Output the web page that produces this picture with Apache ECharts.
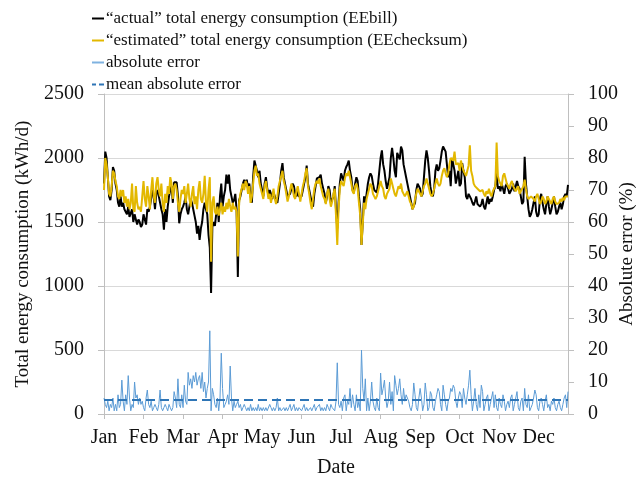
<!DOCTYPE html>
<html>
<head>
<meta charset="utf-8">
<script src="https://cdn.jsdelivr.net/npm/echarts@6/dist/echarts.min.js"></script>
<style>
    html, body { margin: 0; padding: 0; background: #ffffff; }
    #chart { width: 640px; height: 477px; }
</style>
</head>
<body>
<div id="chart"></div>
<script>
// tick labels, one every 31 days
const months = ['Jan', 'Feb', 'Mar', 'Apr', 'May', 'Jun', 'Jul', 'Aug', 'Sep', 'Oct', 'Nov', 'Dec'];

// daily "actual" energy (kWh/d), one row per week
const actual = [
    1800, 2050, 2000, 1850, 1700, 1670, 1750,
    1930, 1900, 1800, 1750, 1650, 1620, 1700,
    1620, 1650, 1600, 1580, 1560, 1620, 1540,
    1540, 1600, 1500, 1560, 1520, 1480, 1520,
    1500, 1460, 1480, 1560, 1520, 1480, 1600,
    1580, 1620, 1680, 1750, 1700, 1600, 1720,
    1750, 1700, 1650, 1600, 1560, 1440, 1600,
    1500, 1620, 1700, 1750, 1780, 1650, 1810,
    1800, 1810, 1700, 1490, 1560, 1600, 1620,
    1650, 1700, 1600, 1560, 1620, 1680, 1650,
    1600, 1550, 1500, 1410, 1470, 1360, 1450,
    1500, 1600, 1650, 1600, 1560, 1400, 1300,
    945, 1460, 1500, 1470, 1560, 1650, 1500,
    1700, 1800, 1620, 1700, 1750, 1870, 1800,
    1870, 1750, 1700, 1650, 1670, 1720, 1600,
    1070, 1670, 1700, 1750, 1800, 1830, 1780,
    1830, 1760, 1800, 1700, 1650, 1850, 1980,
    1980, 1900, 1850, 1900, 1800, 1750, 1700,
    1800, 1850, 1770, 1700, 1750, 1720, 1680,
    1730, 1700, 1690, 1650, 1720, 1800, 1900,
    1960, 1850, 1800, 1750, 1700, 1690, 1720,
    1760, 1800, 1780, 1720, 1700, 1740, 1700,
    1690, 1700, 1750, 1800, 1850, 1940, 1800,
    1750, 1700, 1650, 1620, 1720, 1780, 1840,
    1830, 1850, 1870, 1800, 1760, 1720, 1650,
    1700, 1780, 1750, 1650, 1640, 1700, 1780,
    1600, 1450, 1650, 1800, 1880, 1850, 1820,
    1900, 1930, 1950, 1980, 1900, 1850, 1750,
    1730, 1800, 1850, 1820, 1700, 1600, 1320,
    1500, 1700, 1650, 1720, 1800, 1850, 1880,
    1860, 1800, 1750, 1740, 1730, 1800, 1900,
    2000, 2060, 1950, 1900, 1820, 1760, 1750,
    1850, 2000, 2080, 2000, 1900, 1850, 2040,
    2050, 1990, 2090, 2060, 1950, 1900, 1850,
    1800, 1750, 1700, 1650, 1600, 1590, 1650,
    1750, 1800, 1780, 1760, 1700, 1720, 1850,
    1980, 2060, 2000, 1900, 1780, 1720, 1700,
    1760, 1900, 1950, 1900, 1920, 1980, 2050,
    2090, 2100, 2050, 1950, 1850, 1900, 1780,
    2000, 1950, 1900, 1800, 1850, 1900, 1780,
    1800, 1960, 1900, 1850, 1700, 1680, 1720,
    1700, 1680, 1650, 1630, 1660, 1700, 1640,
    1650, 1620, 1640, 1680, 1620, 1600, 1650,
    1700, 1640, 1680, 1660, 1700, 1750, 1780,
    1880, 1760, 1780, 1740, 1800, 1760, 1720,
    1780, 1800, 1760, 1720, 1740, 1760, 1800,
    1740, 1780, 1820, 1780, 1760, 1700, 1640,
    1660, 2010, 1800, 1700, 1600, 1540, 1560,
    1600, 1650, 1700, 1580, 1540, 1560, 1680,
    1720, 1650, 1600, 1560, 1640, 1700, 1620,
    1560, 1600, 1650, 1700, 1620, 1560, 1580,
    1620, 1650, 1600, 1640, 1700, 1720, 1700,
    1790
];

// daily "estimated" energy (kWh/d)
const estimated = [
    1750, 2000, 1950, 1850, 1720, 1700, 1780,
    1900, 1880, 1820, 1780, 1700, 1680, 1750,
    1700, 1750, 1650, 1700, 1620, 1680, 1600,
    1650, 1800, 1600, 1580, 1780, 1650, 1600,
    1620, 1580, 1700, 1820, 1680, 1620, 1780,
    1700, 1600, 1750, 1850, 1700, 1650, 1800,
    1850, 1750, 1700, 1800, 1650, 1580, 1720,
    1650, 1780, 1720, 1850, 1800, 1680, 1780,
    1800, 1750, 1650, 1580, 1680, 1750, 1720,
    1780, 1650, 1720, 1800, 1680, 1620, 1720,
    1780, 1640, 1700, 1600, 1750, 1820, 1680,
    1650, 1720, 1860, 1650, 1580, 1750, 1850,
    1190, 1650, 1700, 1580, 1560, 1620, 1550,
    1600, 1650, 1560, 1620, 1580, 1650, 1600,
    1680, 1620, 1580, 1650, 1600, 1620, 1580,
    1230, 1650, 1720, 1760, 1800, 1750, 1820,
    1800, 1720, 1780, 1650, 1700, 1800, 1900,
    1940, 1860, 1880, 1800, 1760, 1720, 1680,
    1780, 1820, 1750, 1680, 1720, 1650, 1700,
    1760, 1680, 1640, 1700, 1780, 1820, 1860,
    1900, 1820, 1780, 1720, 1660, 1700, 1750,
    1800, 1760, 1700, 1680, 1740, 1780, 1720,
    1660, 1720, 1780, 1820, 1880, 1920, 1780,
    1720, 1650, 1600, 1680, 1760, 1800, 1820,
    1800, 1840, 1780, 1740, 1700, 1680, 1640,
    1720, 1760, 1680, 1620, 1660, 1720, 1760,
    1550, 1320, 1600, 1760, 1820, 1800, 1780,
    1840, 1880, 1860, 1900, 1850, 1800, 1740,
    1720, 1780, 1800, 1760, 1650, 1550, 1320,
    1480, 1650, 1600, 1680, 1720, 1760, 1800,
    1780, 1720, 1700, 1680, 1700, 1740, 1780,
    1820, 1780, 1760, 1700, 1680, 1720, 1740,
    1760, 1840, 1800, 1760, 1720, 1700, 1740,
    1780, 1760, 1800, 1740, 1720, 1700, 1720,
    1740, 1700, 1660, 1640, 1600, 1620, 1680,
    1720, 1760, 1740, 1720, 1700, 1740, 1780,
    1800, 1840, 1800, 1760, 1720, 1700, 1720,
    1760, 1800, 1840, 1800, 1780, 1800, 1860,
    1900, 1920, 1880, 1850, 1880, 1950, 2000,
    2010, 1980, 2050, 1950, 1940, 1960, 1900,
    1980, 1940, 1900, 1880, 1860, 1900, 1940,
    2100, 1900, 1860, 1800, 1780, 1770, 1760,
    1750, 1740, 1730, 1750, 1720, 1700, 1740,
    1720, 1760, 1720, 1700, 1740, 1760, 1780,
    2120, 1860, 1820, 1800, 1780, 1860, 1880,
    1840, 1800, 1780, 1760, 1800, 1820, 1780,
    1760, 1740, 1760, 1780, 1720, 1740, 1760,
    1780, 1830, 1760, 1700, 1680, 1670, 1700,
    1690, 1680, 1660, 1700, 1720, 1680, 1640,
    1660, 1700, 1680, 1640, 1660, 1700, 1680,
    1660, 1640, 1680, 1700, 1660, 1640, 1650,
    1650, 1680, 1660, 1690, 1670, 1700, 1710,
    1700
];

// daily absolute error (%)
const absError = [
    5, 3, 2, 4, 1, 3, 2,
    5, 1, 3, 1, 6, 2, 3,
    10.6, 4, 1, 6, 3, 12, 5,
    1, 3, 2, 10, 5, 6, 3,
    5, 3, 4, 2, 1, 5, 7.5,
    3, 2, 4, 1, 2, 3, 2,
    1, 3, 7.5, 2, 1, 2, 3,
    2, 1, 3, 2, 1, 2, 7,
    5, 2, 11, 3, 2, 6, 2,
    9, 4, 3, 13, 9, 11, 8,
    12, 10, 13, 9, 11, 12, 8,
    13, 7, 10, 5, 8, 10, 26,
    1, 8, 6, 3, 2, 5, 1,
    5, 19, 8, 2, 3, 4, 6,
    3, 15, 5, 1, 4, 2, 3,
    4, 2, 3, 1, 2, 3, 2,
    1, 2, 1, 3, 1, 2, 1,
    2, 1, 3, 1, 2, 1, 2,
    1, 2, 1, 1, 3, 2, 1,
    2, 1, 2, 5, 1, 2, 1,
    1, 2, 1, 2, 1, 2, 3,
    1, 2, 3, 1, 2, 1, 2,
    2, 1, 2, 3, 1, 2, 1,
    1, 2, 1, 2, 3, 1, 2,
    2, 3, 1, 2, 1, 2, 1,
    3, 2, 1, 3, 2, 2, 1,
    4, 16, 3, 2, 4, 1, 5,
    6, 1, 4, 3, 8, 2, 6,
    3, 1, 6, 2, 4, 1, 20,
    8, 4, 11, 1, 5, 1, 4,
    10, 4, 2, 1, 5, 2, 1,
    12.8, 6, 8, 10.6, 5, 2, 4,
    10, 3, 7, 1, 12, 9, 6,
    8, 11, 6, 3, 8, 4, 6,
    5, 4, 2, 1, 3, 9.7, 6,
    2, 1, 5, 8, 5, 1, 3,
    9.7, 6, 1, 2, 7, 6, 2,
    1, 4, 6, 8, 7, 3, 1,
    9, 6, 3, 1, 4, 5, 8,
    7, 9, 8, 4, 2, 5, 7,
    6, 2, 8, 5, 3, 6, 9,
    13.7, 6, 1, 4, 8, 3, 1,
    6, 2, 9, 7, 1, 3, 5,
    6, 1, 3, 5, 7, 2, 6,
    2, 1, 5, 3, 2, 6, 4,
    1, 3, 4, 2, 5, 6, 1,
    3, 5, 7, 2, 1, 4, 5,
    1, 8, 3, 2, 6, 1, 2,
    3, 5, 7.5, 6, 2, 1, 4,
    5, 3, 1, 4, 6, 2, 3,
    1, 4, 3, 5, 2, 1, 3,
    4, 2, 1, 3, 5, 6, 2,
    7
];

const meanAbsError = 4.4;

const days = actual.map((v, i) => i + 1);

const font = 'Liberation Serif';
const axisGrey = '#bfbfbf';
const solidIcon = 'path://M0,0H12V2H0Z';
const dashIcon = 'path://M0,0H4V2H0Z M7,0H12V2H7Z';

const chart = echarts.init(document.getElementById('chart'));
chart.setOption({
    animation: false,
    textStyle: { fontFamily: font, color: '#111' },
    legend: {
        orient: 'vertical',
        left: 87,
        top: 5,
        itemWidth: 12,
        itemHeight: 2,
        itemGap: 5,
        textStyle: { fontFamily: font, fontSize: 17, color: '#111', padding: [0, 0, 0, -3] },
        data: [
            { name: '\u201cactual\u201d total energy consumption (EEbill)', icon: solidIcon },
            { name: '\u201cestimated\u201d total energy consumption (EEchecksum)', icon: solidIcon },
            { name: 'absolute error', icon: solidIcon },
            { name: 'mean absolute error', icon: dashIcon }
        ]
    },
    grid: { left: 104, right: 72, top: 94, bottom: 63, outerBoundsMode: 'none' },
    xAxis: {
        type: 'category',
        data: days,
        boundaryGap: false,
        name: 'Date',
        nameLocation: 'middle',
        nameGap: 44,
        nameTextStyle: { fontFamily: font, fontSize: 20, color: '#111' },
        axisLine: { lineStyle: { color: axisGrey } },
        axisTick: { interval: 30, length: 5, lineStyle: { color: axisGrey } },
        axisLabel: {
            interval: 30,
            margin: 14,
            fontFamily: font,
            fontSize: 20,
            color: '#111',
            formatter: (v, i) => months[Math.round(i / 31)] || ''
        }
    },
    yAxis: [
        {
            type: 'value',
            min: 0,
            max: 2500,
            interval: 500,
            name: 'Total energy consumption (kWh/d)',
            nameLocation: 'middle',
            nameGap: 71,
            nameTextStyle: { fontFamily: font, fontSize: 19, color: '#111' },
            axisLine: { show: true, lineStyle: { color: axisGrey } },
            axisTick: { show: true, length: 6, lineStyle: { color: axisGrey } },
            axisLabel: { margin: 20, fontFamily: font, fontSize: 20, color: '#111', formatter: v => String(v) },
            splitLine: { lineStyle: { color: '#d9d9d9' } }
        },
        {
            type: 'value',
            min: 0,
            max: 100,
            interval: 10,
            position: 'right',
            name: 'Absolute error (%)',
            nameLocation: 'middle',
            nameGap: 50,
            nameRotate: 90,
            nameMoveOverlap: false,
            nameTextStyle: { fontFamily: font, fontSize: 19, color: '#111' },
            axisLine: { show: true, lineStyle: { color: axisGrey } },
            axisTick: { show: true, length: 6, lineStyle: { color: axisGrey } },
            axisLabel: { margin: 20, fontFamily: font, fontSize: 20, color: '#111' },
            splitLine: { show: false }
        }
    ],
    series: [
        {
            name: '\u201cactual\u201d total energy consumption (EEbill)',
            type: 'line',
            data: actual,
            symbol: 'none',
            lineStyle: { color: '#000000', width: 2 },
            itemStyle: { color: '#000000' }
        },
        {
            name: '\u201cestimated\u201d total energy consumption (EEchecksum)',
            type: 'line',
            data: estimated,
            symbol: 'none',
            lineStyle: { color: '#e3b800', width: 2 },
            itemStyle: { color: '#e3b800' }
        },
        {
            name: 'absolute error',
            type: 'line',
            yAxisIndex: 1,
            data: absError,
            symbol: 'none',
            lineStyle: { color: '#5b9bd5', width: 1 },
            itemStyle: { color: '#7fb2e0' }
        },
        {
            name: 'mean absolute error',
            type: 'line',
            yAxisIndex: 1,
            data: [],
            symbol: 'none',
            lineStyle: { color: '#2e75b6', width: 2, type: [9, 5] },
            itemStyle: { color: '#2e75b6' },
            markLine: {
                silent: true,
                symbol: 'none',
                label: { show: false },
                lineStyle: { color: '#2e75b6', width: 2, type: [9, 5] },
                data: [{ yAxis: meanAbsError }]
            }
        }
    ]
});
</script>
</body>
</html>
